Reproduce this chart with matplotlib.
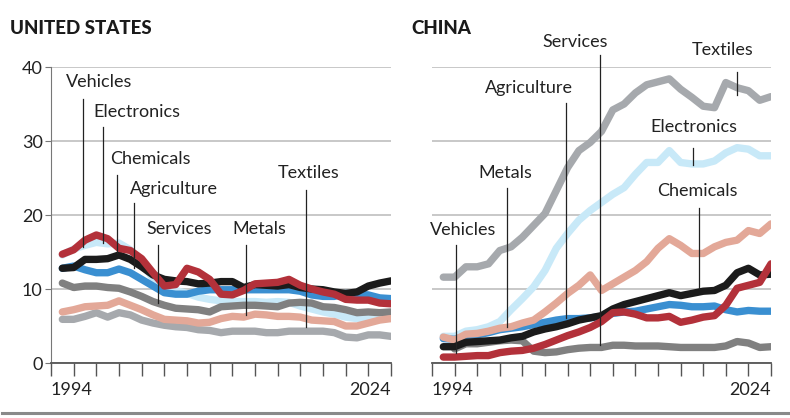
import matplotlib
matplotlib.use('Agg')
import matplotlib.pyplot as plt
from matplotlib.lines import Line2D

plt.rcParams['font.family'] = ['Lato', 'DejaVu Sans']

# share, %
years = list(range(1995, 2025))
years_cn_services = list(range(1996, 2025))

us_vehicles = [14.7, 15.3, 16.6, 17.3, 16.8, 15.5, 15.2, 14.1, 12.2, 10.4,
               10.6, 12.8, 12.3, 11.3, 9.3, 9.2, 9.8, 10.7, 10.8, 10.9,
               11.3, 10.5, 10.0, 9.6, 9.3, 8.6, 8.5, 8.5, 8.1, 8.0]
us_chemicals = [12.8, 12.9, 14.0, 14.0, 14.1, 14.6, 14.0, 13.0, 11.9, 11.3,
                11.1, 11.0, 10.7, 10.8, 11.0, 11.0, 10.2, 10.6, 10.5, 10.4,
                10.6, 10.2, 10.0, 9.9, 9.6, 9.4, 9.6, 10.4, 10.8, 11.1]
us_electronics = [14.6, 15.4, 15.9, 16.3, 16.1, 16.2, 15.3, 13.6, 11.4, 10.0,
                  9.8, 9.4, 8.9, 8.6, 8.4, 8.3, 8.3, 8.3, 8.2, 8.3,
                  8.2, 7.7, 7.3, 6.9, 6.6, 6.2, 6.0, 6.0, 6.0, 6.3]
us_agriculture = [12.8, 13.1, 12.6, 12.2, 12.2, 12.7, 12.2, 11.3, 10.4, 9.5,
                  9.3, 9.3, 9.7, 9.9, 9.9, 9.9, 9.9, 9.9, 9.9, 9.9,
                  9.9, 9.7, 9.2, 9.0, 9.0, 9.4, 9.3, 9.2, 8.8, 8.7]
us_services = [10.8, 10.2, 10.4, 10.4, 10.2, 10.1, 9.6, 9.0, 8.3, 7.8,
               7.4, 7.3, 7.2, 6.9, 7.6, 7.7, 7.8, 7.8, 7.7, 7.6,
               8.1, 8.2, 8.1, 7.6, 7.5, 7.2, 6.8, 6.9, 6.8, 6.9]
us_metals = [6.9, 7.2, 7.6, 7.7, 7.8, 8.4, 7.8, 7.2, 6.5, 5.9,
             5.8, 5.7, 5.4, 5.5, 6.0, 6.3, 6.2, 6.6, 6.5, 6.3,
             6.3, 6.2, 5.8, 5.7, 5.6, 5.0, 5.0, 5.4, 5.8, 6.0]
us_textiles = [5.9, 5.9, 6.3, 6.8, 6.2, 6.8, 6.5, 5.8, 5.4, 5.1,
               4.9, 4.8, 4.5, 4.4, 4.1, 4.3, 4.3, 4.3, 4.1, 4.1,
               4.3, 4.3, 4.3, 4.3, 4.1, 3.5, 3.4, 3.8, 3.8, 3.6]

cn_textiles = [11.6, 11.6, 13.0, 13.0, 13.4, 15.2, 15.7, 17.0, 18.6, 20.2,
               23.3, 26.4, 28.7, 29.8, 31.3, 34.2, 35.0, 36.5, 37.6, 38.0,
               38.4, 37.0, 35.9, 34.7, 34.5, 37.9, 37.2, 36.8, 35.5, 36.0]
cn_electronics = [3.6, 3.6, 4.3, 4.5, 4.9, 5.6, 7.2, 8.7, 10.3, 12.5,
                  15.5, 17.5, 19.3, 20.6, 21.7, 22.8, 23.7, 25.5, 27.1, 27.1,
                  28.7, 27.1, 26.9, 26.9, 27.3, 28.4, 29.1, 28.9, 28.0, 28.0]
cn_metals = [3.5, 3.1, 3.9, 4.0, 4.3, 4.7, 4.9, 5.4, 5.8, 6.9,
             8.1, 9.4, 10.5, 11.9, 9.8, 10.7, 11.6, 12.5, 13.7, 15.5,
             16.8, 15.9, 14.8, 14.8, 15.7, 16.3, 16.6, 17.9, 17.5, 18.8]
cn_chemicals = [2.2, 2.2, 2.8, 2.9, 3.0, 3.1, 3.4, 3.6, 4.2, 4.6,
                4.9, 5.3, 5.8, 6.1, 6.4, 7.3, 7.9, 8.3, 8.7, 9.1,
                9.5, 9.1, 9.4, 9.7, 9.8, 10.5, 12.2, 12.8, 11.9, 12.0]
cn_agriculture = [3.3, 3.2, 3.6, 3.8, 4.1, 4.5, 4.7, 4.9, 5.2, 5.5,
                  5.8, 6.0, 6.0, 6.1, 6.3, 6.7, 6.9, 7.0, 7.3, 7.6,
                  7.9, 7.8, 7.6, 7.6, 7.7, 7.2, 6.9, 7.1, 7.0, 7.0]
cn_vehicles = [0.8, 0.8, 0.9, 1.0, 1.0, 1.4, 1.6, 1.7, 2.0, 2.5,
               3.1, 3.7, 4.2, 4.8, 5.6, 6.8, 6.9, 6.6, 6.1, 6.1,
               6.3, 5.5, 5.8, 6.2, 6.4, 7.8, 10.1, 10.5, 10.9, 13.4]
cn_services = [1.9, 2.6, 2.6, 2.8, 3.0, 3.1, 3.0, 1.6, 1.4,
               1.5, 1.8, 2.0, 2.1, 2.1, 2.4, 2.4, 2.3, 2.3, 2.3,
               2.2, 2.1, 2.1, 2.1, 2.1, 2.3, 2.9, 2.7, 2.1, 2.2]

colors = {'Electronics': '#c8e9f8', 'Textiles': '#a6a9ad', 'Services': '#808080',
          'Metals': '#e3a898', 'Agriculture': '#3a8fd1', 'Chemicals': '#1b1b1b',
          'Vehicles': '#b3313a'}
# drawing order, bottom to top
order = ['Electronics', 'Textiles', 'Services', 'Agriculture', 'Metals', 'Chemicals', 'Vehicles']

us = {'Vehicles': (years, us_vehicles), 'Chemicals': (years, us_chemicals),
      'Electronics': (years, us_electronics), 'Agriculture': (years, us_agriculture),
      'Services': (years, us_services), 'Metals': (years, us_metals),
      'Textiles': (years, us_textiles)}
cn = {'Vehicles': (years, cn_vehicles), 'Chemicals': (years, cn_chemicals),
      'Electronics': (years, cn_electronics), 'Agriculture': (years, cn_agriculture),
      'Services': (years_cn_services, cn_services), 'Metals': (years, cn_metals),
      'Textiles': (years, cn_textiles)}

# label: text x, text y, leader x, leader top, leader bottom (data units)
us_labels = [('Vehicles', 1995.3, 38.0, 1996.8, 35.7, 15.7),
             ('Electronics', 1997.7, 33.9, 1998.6, 31.9, 16.2),
             ('Chemicals', 1999.2, 27.6, 1999.8, 25.4, 14.9),
             ('Agriculture', 2001.0, 23.5, 2001.3, 21.6, 12.8),
             ('Services', 2002.4, 18.1, 2003.4, 15.9, 8.1),
             ('Metals', 2010.0, 18.1, 2011.2, 15.9, 6.5),
             ('Textiles', 2014.0, 25.7, 2016.5, 23.4, 4.9)]
cn_labels = [('Services', 2003.8, 43.4, 2008.9, 41.6, 2.4),
             ('Textiles', 2017.0, 42.3, 2021.0, 39.3, 36.2),
             ('Agriculture', 1998.7, 37.2, 2005.9, 35.1, 6.1),
             ('Electronics', 2013.3, 31.9, 2017.1, 29.1, 26.8),
             ('Metals', 1998.1, 25.7, 2000.6, 23.6, 4.9),
             ('Chemicals', 2013.9, 23.2, 2017.6, 20.9, 10.0),
             ('Vehicles', 1993.8, 18.0, 1996.1, 15.9, 1.4)]

fig = plt.figure(figsize=(7.9, 4.18), dpi=100)
ax_us = fig.add_axes([51/790, 55/418, 340/790, 296/418])
ax_cn = fig.add_axes([432/790, 55/418, 339/790, 296/418])

for ax, data, labels in [(ax_us, us, us_labels), (ax_cn, cn, cn_labels)]:
    ax.set_xlim(1994, 2024)
    ax.set_ylim(0, 40)
    ax.set_yticks([0, 10, 20, 30, 40])
    ax.yaxis.grid(True, color='#c4c4c4', lw=1.3)
    ax.set_axisbelow(True)
    for s in ['top', 'right']:
        ax.spines[s].set_visible(False)
    ax.spines['bottom'].set_color('#555555')
    ax.spines['bottom'].set_linewidth(1.3)
    ticks = list(range(1994, 2025, 2))
    ax.set_xticks(ticks, ['1994'] + [''] * (len(ticks) - 2) + ['2024'])
    ax.tick_params(axis='x', length=9, width=1, color='#555555', labelsize=13,
                   labelcolor='#222222', pad=5)
    xl = ax.get_xticklabels()
    xl[0].set_ha('left')
    xl[-1].set_ha('right')

    for name in order:
        x, y = data[name]
        ax.plot(x, y, color=colors[name], lw=5.3, solid_capstyle='round',
                solid_joinstyle='round')

    for name, tx, ty, lx, l0, l1 in labels:
        ax.text(tx, ty, name, fontsize=13, color='#222222', va='center',
                ha='left', clip_on=False)
        ax.plot([lx, lx], [l0, l1], color='#222222', lw=0.9, zorder=5,
                clip_on=False)

ax_us.spines['left'].set_color('#777777')
ax_us.tick_params(axis='y', length=4, color='#777777', labelsize=13,
                  labelcolor='#222222', pad=2)
ax_cn.spines['left'].set_visible(False)
ax_cn.tick_params(axis='y', length=0, labelleft=False)

fig.text(10/790, 1 - 28/418, 'UNITED STATES', fontsize=13.5, fontweight='black',
         color='#1a1a1a', va='center')
fig.text(411/790, 1 - 28/418, 'CHINA', fontsize=13.5, fontweight='black',
         color='#1a1a1a', va='center')

fig.add_artist(Line2D([0.003, 1], [1 - 413/418] * 2, color='#8a8a8a', lw=2.2))

fig.savefig('out.png', dpi=100)
